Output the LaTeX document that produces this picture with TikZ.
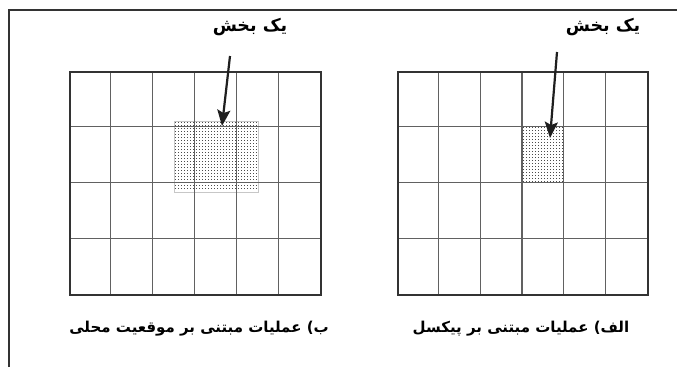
\documentclass[tikz,border=0pt]{standalone}
\usepackage{fontspec}
\newfontfamily\arabicfont[Script=Arabic]{DejaVu Sans}
\TeXXeTstate=1
\usetikzlibrary{arrows.meta}
\begin{document}
\begin{tikzpicture}[x=1pt,y=-1pt,
  frame/.style={line width=2pt, draw=black!80},
  cell/.style={line width=1.1pt, draw=black!62},
  outer/.style={line width=2pt, draw=black!80},
  patchedge/.style={draw=black!22, line width=0.7pt},
  dot/.style={fill=black!70},
  pointer/.style={line width=2.2pt, draw=black!88, -{Stealth[length=16pt,width=13pt,inset=3pt]}},
  lbl/.style={font=\arabicfont\bfseries\fontsize{17.5}{20}\selectfont, inner sep=1pt},
  captext/.style={font=\arabicfont\bfseries\fontsize{15}{18}\selectfont, inner sep=1pt}]
\useasboundingbox (0,0) rectangle (677,367);
\fill[white] (0,0) rectangle (677,367);
\draw[frame] (8.5,367) -- (8.5,9.5) -- (677,9.5);

% patches
\draw[patchedge] (174,121) rectangle (258,192);
\foreach \px in {0,...,27} \foreach \py in {0,...,22}
  \fill[dot] ({175+\px*3},{122+\py*3}) rectangle ++(1.3,1.3);
\foreach \px in {0,...,13} \foreach \py in {0,...,18}
  \fill[dot] ({523+\px*3},{127+\py*3}) rectangle ++(1.3,1.3);

% left grid (b)
\foreach \i in {1,...,5} \draw[cell] ({69+\i*251/6},71) -- ({69+\i*251/6},294);
\foreach \j in {1,2,3} \draw[cell] (69,{71+\j*223/4}) -- (320,{71+\j*223/4});
\node[outer, minimum width=251pt, minimum height=223pt, inner sep=0pt, anchor=north west] (gridB) at (69,71) {};

% right grid (a)
\foreach \i in {1,...,5} \draw[cell] ({397+\i*250/6},71) -- ({397+\i*250/6},294);
\foreach \j in {1,2,3} \draw[cell] (397,{71+\j*223/4}) -- (647,{71+\j*223/4});
\node[outer, minimum width=250pt, minimum height=223pt, inner sep=0pt, anchor=north west] (gridA) at (397,71) {};

% labels
\node[lbl] (lblB) at (250,26.5) {\beginR یک بخش\endR};
\node[lbl] (lblA) at (603,26.5) {\beginR یک بخش\endR};

% arrows
\coordinate (tailB) at (230,56);
\coordinate (tipB) at (222,126);
\coordinate (tailA) at (557,52);
\coordinate (tipA) at (550,138);
\draw[pointer] (tailB) -- (tipB);
\draw[pointer] (tailA) -- (tipA);

% captions
\node[captext] (capB) at (199,329) {\beginR ب) عملیات مبتنی بر موقعیت محلی\endR};
\node[captext] (capA) at (521,329) {\beginR الف) عملیات مبتنی بر پیکسل\endR};
\end{tikzpicture}
\end{document}
